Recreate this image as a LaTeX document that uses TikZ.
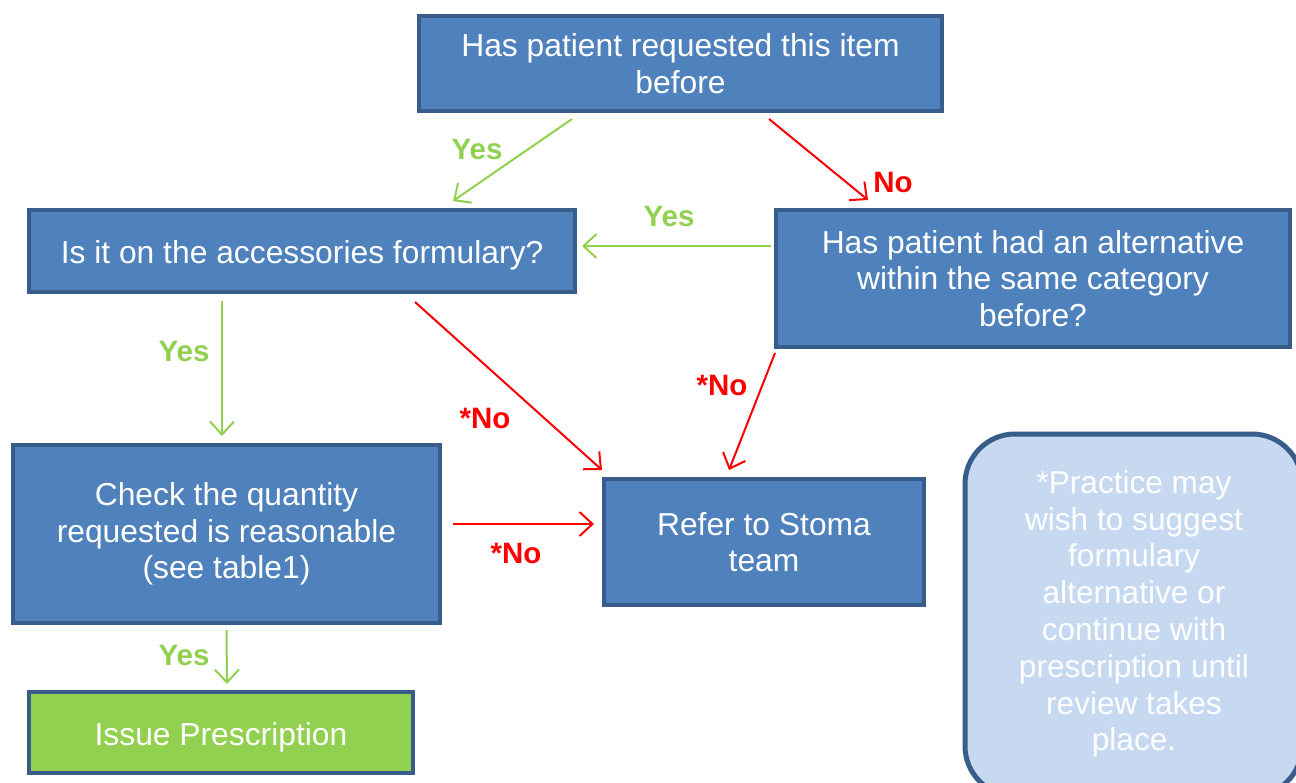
\documentclass[tikz,border=0pt]{standalone}
\usepackage{fontspec}
\setmainfont{Liberation Sans}
\usetikzlibrary{arrows.meta}
\definecolor{boxfill}{HTML}{4F81BD}
\definecolor{boxline}{HTML}{385D8A}
\definecolor{ygreen}{HTML}{92D050}
\definecolor{nred}{HTML}{FF0000}
\definecolor{notefill}{HTML}{C6D9F1}
\tikzset{
  box/.style={draw=boxline, line width=4pt, fill=boxfill, text=white, align=center,
    inner sep=0pt, font=\fontsize{31.8}{36.7}\selectfont},
  greenbox/.style={box, fill=ygreen},
  notebox/.style={draw=boxline, line width=5pt, fill=notefill, text=white, align=center,
    rounded corners=50pt, inner sep=0pt},
  notetxt/.style={text=white, align=center, inner sep=0pt, font=\fontsize{31.6}{36.8}\selectfont},
  yesarr/.style={draw=ygreen, line width=2pt, -{Straight Barb[length=13pt,width=24pt]}},
  noarr/.style={draw=nred, line width=2pt, -{Straight Barb[length=13pt,width=24pt]}},
  yeslbl/.style={text=ygreen, font=\fontsize{29.5}{32}\selectfont\bfseries, inner sep=0pt},
  nolbl/.style={text=nred, font=\fontsize{29.5}{32}\selectfont\bfseries, inner sep=0pt},
}
\begin{document}
\begin{tikzpicture}[x=1pt,y=-1pt]
\useasboundingbox (0,0) rectangle (1296,782);
\fill[white] (0,0) rectangle (1296,782);

\node[box, minimum width=523pt, minimum height=95pt] (top) at (680.5,63.5)
  {Has patient requested this item\\before};
\node[box, minimum width=546pt, minimum height=82pt, text height=31.3pt, text depth=6.7pt] (form) at (302,251)
  {Is it on the accessories formulary?};
\node[box, minimum width=514pt, minimum height=137pt] (alt) at (1033,278.5)
  {Has patient had an alternative\\within the same category\\before?};
\node[box, minimum width=427pt, minimum height=178pt] (check) at (226.5,534)
  {Check the quantity\\requested is reasonable\\(see table1)};
\node[box, minimum width=320pt, minimum height=126pt] (refer) at (764,542)
  {Refer to Stoma\\team};
\node[greenbox, minimum width=384pt, minimum height=81pt, text height=33.3pt, text depth=6.7pt] (issue) at (221,732.5)
  {Issue Prescription};
\begin{scope}
\clip (0,0) rectangle (1296,782);
\node[notebox, minimum width=337pt, minimum height=362pt] (note) at (1133.5,615) {};
\end{scope}
\node[notetxt] (notetext) at (1134,614)
  {*Practice may\\wish to suggest\\formulary\\alternative or\\continue with\\prescription until\\review takes\\place.};

\draw[yesarr] ([xshift=-108.5pt,yshift=-6pt]top.south) -- ([xshift=151pt,yshift=7pt]form.north);
\draw[noarr] ([xshift=88.5pt,yshift=-6pt]top.south) -- ([xshift=-165pt,yshift=8pt]alt.north);
\draw[yesarr] ([xshift=-3pt,yshift=32.5pt]alt.west) -- ([xshift=5pt,yshift=5pt]form.east);
\draw[yesarr] ([xshift=-80pt,yshift=-7pt]form.south) -- ([xshift=-4.5pt,yshift=7pt]check.north);
\draw[noarr] ([xshift=113pt,yshift=-8pt]form.south) -- ([xshift=-162pt,yshift=7pt]refer.north);
\draw[noarr] ([xshift=-258pt,yshift=-4pt]alt.south) -- ([xshift=-35pt,yshift=7pt]refer.north);
\draw[noarr] ([xshift=11pt,yshift=10pt]check.east) -- ([xshift=-8pt,yshift=18pt]refer.west);
\draw[yesarr] ([yshift=-5pt]check.south) -- ([xshift=6pt,yshift=6pt]issue.north);

\node[yeslbl] (l1) at (477,149) {Yes};
\node[nolbl] (l2) at (893,182) {No};
\node[yeslbl] (l3) at (669,216) {Yes};
\node[yeslbl] (l4) at (184,351) {Yes};
\node[nolbl] (l5) at (485,418) {*No};
\node[nolbl] (l6) at (722,385) {*No};
\node[nolbl] (l7) at (516,553) {*No};
\node[yeslbl] (l8) at (184,655) {Yes};
\end{tikzpicture}
\end{document}
